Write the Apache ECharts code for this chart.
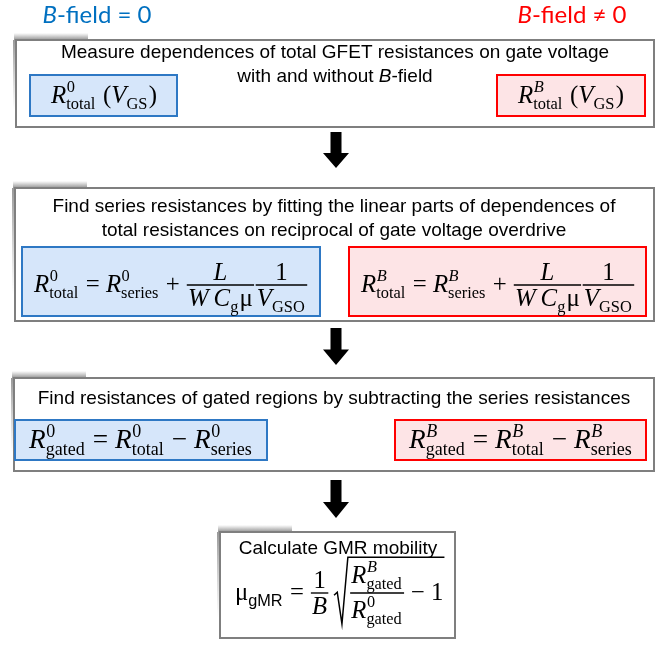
<!DOCTYPE html>
<html>
<head>
<meta charset="utf-8">
<script src="https://cdn.jsdelivr.net/npm/echarts@6/dist/echarts.min.js"></script>
<style>
  html, body { margin: 0; padding: 0; background: #fff; }
  #main { width: 668px; height: 649px; }
</style>
</head>
<body>
<div id="main"></div>
<script>
// column headers
const headerLabels = ['{i|B}-field = 0', '{i|B}-field \u2260 0'];

// step titles (one array per box, one entry per line)
const step1Title = ['Measure dependences of total GFET resistances on gate voltage', 'with and without {i|B}-field'];
const step2Title = ['Find series resistances by fitting the linear parts of dependences of', 'total resistances on reciprocal of gate voltage overdrive'];
const step3Title = ['Find resistances of gated regions by subtracting the series resistances'];
const step4Title = ['Calculate GMR mobility'];

// formula pieces
const SUP0 = ['0'];
const SUPB = [{ s: 'B', it: 1 }];
const Rt = (sup, sub) => [{ s: 'R', it: 1 }, { sup: sup, sub: [sub] }];

const formulaMeasure0 = [...Rt(SUP0, 'total'), ' (', { s: 'V', it: 1 }, { sub: ['GS'] }, ')'];
const formulaMeasureB = [...Rt(SUPB, 'total'), ' (', { s: 'V', it: 1 }, { sub: ['GS'] }, ')'];
const channelTerm = { num: [{ s: 'L', it: 1 }], den: [{ s: 'W', it: 1 }, '\u2009', { s: 'C', it: 1 }, { sub: ['g'] }, '\u03bc'] };
const overdriveTerm = { num: ['1'], den: [{ s: 'V', it: 1 }, { sub: ['GSO'] }] };
const formulaSeries0 = [...Rt(SUP0, 'total'), ' = ', ...Rt(SUP0, 'series'), ' + ', channelTerm, overdriveTerm];
const formulaSeriesB = [...Rt(SUPB, 'total'), ' = ', ...Rt(SUPB, 'series'), ' + ', channelTerm, overdriveTerm];
const formulaGated0 = [...Rt(SUP0, 'gated'), ' = ', ...Rt(SUP0, 'total'), ' \u2212 ', ...Rt(SUP0, 'series')];
const formulaGatedB = [...Rt(SUPB, 'gated'), ' = ', ...Rt(SUPB, 'total'), ' \u2212 ', ...Rt(SUPB, 'series')];
const formulaMobility = [
  '\u03bc', { sub: [{ s: 'gMR', ff: 'Liberation Sans' }] }, ' = ',
  { num: ['1'], den: [{ s: 'B', it: 1 }] }, '\u2009',
  { sqrt: [{ num: Rt(SUPB, 'gated'), den: Rt(SUP0, 'gated'), nOff: 0.42, dOff: 1.0 }, ' \u2212 1'], top: 1.45, bot: 1.25 }
];

// ---------- layout ----------
const SERIF = 'Liberation Serif';
const SANS = 'Liberation Sans';
const AXIS = 0.27;
const SCRIPT = 0.66;
const TITLE_SIZE = 19;
const BLUE = '#0070C0';
const RED = '#FF0000';

const mctx = document.createElement('canvas').getContext('2d');
function fontStr(size, it, ff) {
  return (it ? 'italic ' : '') + size + 'px "' + (ff || SERIF) + '"';
}
function textW(s, size, it, ff) {
  mctx.font = fontStr(size, it, ff);
  return mctx.measureText(s).width;
}
// distance between alphabetic baseline and canvas 'middle' baseline
const midCache = {};
function midOffset(ff, it) {
  const key = ff + it;
  if (midCache[key] === undefined) {
    mctx.font = fontStr(100, it, ff);
    mctx.textBaseline = 'alphabetic';
    const a = mctx.measureText('H').actualBoundingBoxAscent;
    mctx.textBaseline = 'middle';
    const b = mctx.measureText('H').actualBoundingBoxAscent;
    mctx.textBaseline = 'alphabetic';
    midCache[key] = (a - b) / 100;
  }
  return midCache[key];
}

function glyph(s, x, base, size, it, ff) {
  return {
    type: 'text', x: x, y: base - size * midOffset(ff || SERIF, !!it), silent: true,
    style: {
      text: s, fontSize: size, fontFamily: ff || SERIF, fontStyle: it ? 'italic' : 'normal',
      fill: '#000', align: 'left', verticalAlign: 'middle'
    }
  };
}
function rule(x1, y, x2, lw) {
  return { type: 'line', silent: true, shape: { x1: x1, y1: y, x2: x2, y2: y }, style: { stroke: '#000', lineWidth: lw } };
}

function place(toks, x, base, size, out) {
  const x0 = x;
  toks.forEach(tok => {
    const t = typeof tok === 'string' ? { s: tok } : tok;
    if (t.s !== undefined) {
      if (out) out.push(glyph(t.s, x, base, size, t.it, t.ff));
      x += textW(t.s, size, t.it, t.ff);
    } else if (t.sub || t.sup) {
      const ss = size * SCRIPT;
      let w = 0;
      if (t.sup) w = Math.max(w, place(t.sup, x + size * 0.02, base - size * 0.42, ss, out));
      if (t.sub) w = Math.max(w, place(t.sub, x, base + size * 0.24, ss, out));
      x += w + size * 0.05;
    } else if (t.num) {
      const wn = place(t.num, 0, 0, size, null);
      const wd = place(t.den, 0, 0, size, null);
      const pad = size * 0.08;
      const w = Math.max(wn, wd) + 2 * pad;
      const axis = base - size * AXIS;
      if (out) {
        place(t.num, x + (w - wn) / 2, axis - size * (t.nOff || 0.22), size, out);
        place(t.den, x + (w - wd) / 2, axis + size * (t.dOff || 0.86), size, out);
        out.push(rule(x + pad * 0.4, axis, x + w - pad * 0.4, size * 0.055));
      }
      x += w;
    } else if (t.sqrt) {
      const rw = size * 0.62;
      const wi = place(t.sqrt, 0, 0, size, null);
      if (out) {
        const top = base - size * AXIS - size * t.top;
        const bot = base - size * AXIS + size * t.bot;
        out.push({
          type: 'polyline', silent: true,
          shape: { points: [[x, base - size * 0.18], [x + size * 0.13, base - size * 0.3], [x + size * 0.32, bot], [x + size * 0.56, top], [x + rw + wi + size * 0.04, top]] },
          style: { stroke: '#000', lineWidth: size * 0.06, fill: null, lineJoin: 'miter' }
        });
        place(t.sqrt, x + rw, base, size, out);
      }
      x += rw + wi + size * 0.06;
    }
  });
  return x - x0;
}

function formula(toks, cx, axisY, width, out) {
  const size = 20 * width / place(toks, 0, 0, 20, null);
  place(toks, cx - width / 2, axisY + size * AXIS, size, out);
}

const els = [];

function outerBox(x1, y1, x2, y2) {
  // soft shadow stub on the top-left corner
  els.push({
    type: 'rect', silent: true, shape: { x: x1 - 2, y: y1 - 7, width: 74, height: 7 },
    style: { fill: new echarts.graphic.LinearGradient(0, 0, 0, 1, [{ offset: 0, color: 'rgba(120,120,120,0)' }, { offset: 1, color: 'rgba(110,110,110,0.75)' }]) }
  });
  els.push({
    type: 'rect', silent: true, shape: { x: x1 - 3, y: y1, width: 3, height: (y2 - y1) * 0.8 },
    style: { fill: new echarts.graphic.LinearGradient(0, 0, 0, 1, [{ offset: 0, color: 'rgba(110,110,110,0.7)' }, { offset: 1, color: 'rgba(140,140,140,0)' }]) }
  });
  els.push({
    type: 'rect', silent: true, shape: { x: x1, y: y1, width: x2 - x1, height: y2 - y1 },
    style: { fill: '#fff', stroke: '#7f7f7f', lineWidth: 2 }
  });
}
function colorBox(x1, y1, x2, y2, blue) {
  els.push({
    type: 'rect', silent: true, shape: { x: x1, y: y1, width: x2 - x1, height: y2 - y1 },
    style: { fill: blue ? '#D6E6FA' : '#FDE4E6', stroke: blue ? '#2E78C4' : RED, lineWidth: 2 }
  });
}
function titleLines(lines, cx, y0, dy) {
  lines.forEach((l, i) => {
    els.push({
      type: 'text', silent: true, x: cx, y: y0 + i * dy,
      style: {
        text: l, fontSize: TITLE_SIZE, fontFamily: SANS, fill: '#000', align: 'center', verticalAlign: 'middle',
        rich: { i: { fontSize: TITLE_SIZE, fontFamily: SANS, fontStyle: 'italic', fill: '#000' } }
      }
    });
  });
}
function arrow(cx, y0, y1) {
  const yh = y0 + (y1 - y0) * 0.58;
  els.push({
    type: 'polygon', silent: true,
    shape: { points: [[cx - 5.5, y0], [cx + 5.5, y0], [cx + 5.5, yh], [cx + 13, yh], [cx, y1], [cx - 13, yh], [cx - 5.5, yh]] },
    style: { fill: '#000' }
  });
}

// headers
headerLabels.forEach((h, i) => {
  const c = i === 0 ? BLUE : RED;
  els.push({
    type: 'text', silent: true, x: i === 0 ? 97 : 572, y: 15,
    style: {
      text: h, fontSize: 24, fontFamily: 'Lato', fill: c, align: 'center', verticalAlign: 'middle',
      rich: { i: { fontSize: 24, fontFamily: 'Lato', fontStyle: 'italic', fill: c } }
    }
  });
});

// step 1
outerBox(16, 40, 654, 127);
titleLines(step1Title, 335, 53, 24);
colorBox(30, 75, 177, 116, true);
colorBox(497, 75, 645, 116, false);
formula(formulaMeasure0, 104, 96, 106, els);
formula(formulaMeasureB, 571, 96, 106, els);
arrow(336, 132, 168);

// step 2
outerBox(15, 188, 654, 321);
titleLines(step2Title, 334, 207, 24);
colorBox(22, 247, 320, 316, true);
colorBox(349, 247, 646, 316, false);
formula(formulaSeries0, 171, 285, 274, els);
formula(formulaSeriesB, 498, 285, 274, els);
arrow(336, 328, 365);

// step 3
outerBox(14, 378, 654, 471);
titleLines(step3Title, 334, 399, 24);
colorBox(15, 420, 267, 460, true);
colorBox(395, 420, 646, 460, false);
formula(formulaGated0, 141, 441, 224, els);
formula(formulaGatedB, 521, 441, 224, els);
arrow(336, 480, 518);

// step 4
outerBox(220, 532, 455, 638);
titleLines(step4Title, 338, 549, 24);
formula(formulaMobility, 340, 593, 210, els);

const chart = echarts.init(document.getElementById('main'), null, { renderer: 'canvas' });
chart.setOption({
  animation: false,
  graphic: { elements: els }
});
</script>
</body>
</html>
